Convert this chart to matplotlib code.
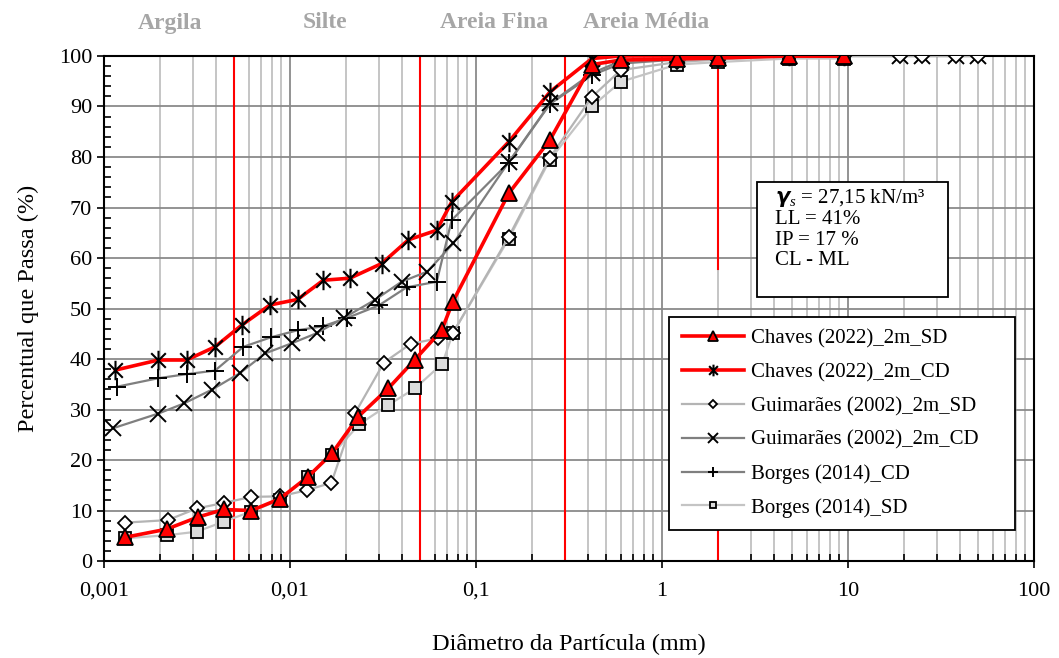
import numpy as np
import matplotlib
matplotlib.use("Agg")
import matplotlib.pyplot as plt
from matplotlib.path import Path
from matplotlib.patches import Rectangle
from matplotlib.ticker import FixedLocator, LogLocator, NullFormatter

# ── Dados (diâmetro em mm, % que passa) ──────────────────────────────────────
chaves_sd_x = [0.0013, 0.00217, 0.0032, 0.0044, 0.0062, 0.0088, 0.0125, 0.0168, 0.0233,
               0.0338, 0.047, 0.0654, 0.075, 0.15, 0.25, 0.42, 0.6, 1.2, 2.0, 4.8, 9.5]
chaves_sd_y = [4.7, 6.3, 8.7, 10.2, 10.0, 12.3, 16.7, 21.3, 28.6,
               34.2, 39.9, 45.7, 51.3, 72.8, 83.4, 98.3, 99.2, 99.4, 99.6, 100, 100]

chaves_cd_x = [0.00115, 0.00196, 0.00278, 0.00395, 0.0055, 0.0078, 0.011, 0.0151, 0.021,
               0.0311, 0.0433, 0.0615, 0.074, 0.15, 0.25, 0.42, 0.6, 1.2, 2.0, 4.8, 9.5]
chaves_cd_y = [37.8, 39.8, 39.8, 42.4, 46.7, 50.7, 51.8, 55.6, 56.0,
               58.9, 63.6, 65.5, 71.1, 83.0, 92.9, 99.5, 100, 100, 100, 100, 100]

guim_sd_x = [0.0013, 0.0022, 0.00315, 0.0044, 0.0062, 0.0088, 0.0123, 0.0167, 0.0224,
             0.032, 0.0445, 0.0627, 0.075, 0.15, 0.25, 0.42, 0.6, 1.2, 2.0, 4.8, 9.5,
             19, 25, 38, 50]
guim_sd_y = [7.6, 8.1, 10.4, 11.5, 12.7, 12.8, 14.0, 15.5, 29.3,
             39.3, 43.0, 44.1, 45.1, 64.2, 79.9, 91.9, 97.2, 98.8, 99.3, 100, 100,
             100, 100, 100, 100]

guim_cd_x = [0.00112, 0.00196, 0.00269, 0.00379, 0.00538, 0.00734, 0.0102, 0.0139, 0.0194,
             0.0286, 0.0398, 0.0547, 0.0755, 0.15, 0.25, 0.42, 0.6, 1.2, 2.0, 4.8, 9.5,
             19, 25, 38, 50]
guim_cd_y = [26.3, 29.2, 31.2, 33.9, 37.2, 41.1, 43.1, 45.1, 48.1,
             51.7, 55.3, 57.3, 62.9, 79.0, 90.6, 96.6, 99.0, 99.5, 99.7, 100, 100,
             100, 100, 100, 100]

borges_cd_x = [0.00117, 0.00196, 0.00278, 0.00395, 0.0056, 0.0079, 0.011, 0.0151, 0.0202,
               0.030, 0.0424, 0.0615, 0.074, 0.15, 0.25, 0.42, 0.6, 1.2, 2.0, 4.8, 9.5]
borges_cd_y = [34.5, 36.2, 37.0, 37.7, 42.4, 44.3, 45.7, 46.5, 48.1,
               50.6, 54.2, 55.3, 67.5, 78.9, 90.5, 96.2, 98.5, 99.3, 99.5, 100, 100]

borges_sd_x = [0.0013, 0.00217, 0.00315, 0.0044, 0.0062, 0.0088, 0.0125, 0.0168, 0.0236,
               0.0338, 0.047, 0.066, 0.075, 0.15, 0.25, 0.42, 0.6, 1.2, 2.0, 4.8, 9.5]
borges_sd_y = [4.5, 5.1, 5.8, 7.8, 9.8, 12.1, 16.7, 21.0, 27.1,
               30.9, 34.2, 39.1, 45.1, 63.8, 79.5, 90.0, 94.9, 98.3, 98.8, 99.5, 99.5]

limites_mm   = [0.005, 0.05, 0.3, 2.0]          # limites das frações (linhas vermelhas)
fracoes      = ["Argila", "Silte", "Areia Fina", "Areia Média"]
x_ticks      = [0.001, 0.01, 0.1, 1, 10, 100]
x_ticklabels = ["0,001", "0,01", "0,1", "1", "10", "100"]
info_txt     = "$\\boldsymbol{\\gamma}_{\\mathit{s}}$ = 27,15 kN/m³\nLL = 41%\nIP = 17 %\nCL - ML"

# ── Estilo ────────────────────────────────────────────────────────────────────
plt.rcParams["font.family"] = ["Liberation Serif", "DejaVu Serif"]
plt.rcParams["mathtext.fontset"] = "custom"
plt.rcParams["mathtext.rm"] = "Liberation Serif"
plt.rcParams["mathtext.it"] = "Liberation Serif:italic"
plt.rcParams["mathtext.bf"] = "Liberation Serif:bold:italic"

# asterisco tipo Excel: X + barra vertical
AST = Path([(0, -1), (0, 1), (-0.75, -0.75), (0.75, 0.75), (-0.75, 0.75), (0.75, -0.75)],
           [Path.MOVETO, Path.LINETO] * 3)

fig = plt.figure(figsize=(10.59, 6.58), dpi=100)
ax = fig.add_axes([0.0982, 0.1474, 0.8782, 0.7675])

ax.set_xscale("log")
ax.set_xlim(0.001, 100)
ax.set_ylim(0, 100)

# grade
ax.xaxis.set_major_locator(FixedLocator(x_ticks))
ax.xaxis.set_minor_locator(LogLocator(base=10, subs=np.arange(2, 10)))
ax.xaxis.set_minor_formatter(NullFormatter())
ax.set_xticklabels(x_ticklabels)
ax.set_yticks(np.arange(0, 101, 10))
ax.set_yticks(np.arange(0, 101, 2), minor=True)
ax.grid(which="major", axis="both", color="#8a8a8a", lw=1.3, zorder=0)
ax.grid(which="minor", axis="x", color="#c0c0c0", lw=1.3, zorder=0)
ax.set_axisbelow(True)
ax.tick_params(which="major", direction="out", length=5, width=1.2, labelsize=16)
ax.tick_params(axis="x", which="major", pad=10)
ax.tick_params(which="minor", direction="in", length=5, width=1.2)
for s in ax.spines.values():
    s.set_linewidth(1.5)

# limites das frações
for lim in limites_mm[:3]:
    ax.axvline(lim, color="red", lw=1.5, zorder=1)
ax.axvline(2.0, ymin=0.0, ymax=0.1, color="red", lw=1.5, zorder=1)
ax.axvline(2.0, ymin=0.578, ymax=1.0, color="red", lw=1.5, zorder=1)

# séries
ax.plot(borges_sd_x, borges_sd_y, color="#c4c4c4", lw=1.6, marker="s", ms=8,
        mfc="#dcdcdc", mec="black", mew=1.3, label="Borges (2014)_SD", zorder=3)
ax.plot(borges_cd_x, borges_cd_y, color="#7f7f7f", lw=1.6, marker="+", ms=13,
        mec="black", mew=1.4, label="Borges (2014)_CD", zorder=3)
ax.plot(guim_cd_x, guim_cd_y, color="#7f7f7f", lw=1.6, marker="x", ms=11,
        mec="black", mew=1.4, label="Guimarães (2002)_2m_CD", zorder=3)
ax.plot(guim_sd_x, guim_sd_y, color="#b4b4b4", lw=1.6, marker="D", ms=7,
        mfc="white", mec="black", mew=1.3, label="Guimarães (2002)_2m_SD", zorder=3)
ax.plot(chaves_cd_x, chaves_cd_y, color="red", lw=2.6, marker=AST, ms=14,
        mec="black", mew=1.5, label="Chaves (2022)_2m_CD", zorder=4)
ax.plot(chaves_sd_x, chaves_sd_y, color="red", lw=2.6, marker="^", ms=11,
        mfc="red", mec="black", mew=1.3, label="Chaves (2022)_2m_SD", zorder=5)

ax.set_xlabel("Diâmetro da Partícula (mm)", fontsize=17.5, labelpad=24)
ax.set_ylabel("Percentual que Passa (%)", fontsize=17.5, labelpad=14)

# nomes das frações no topo
for nome, xc in zip(fracoes, [170, 325, 494, 646]):
    fig.text(xc / 1059, 1 - 23 / 658, nome, ha="center", va="center",
             fontsize=17, fontweight="bold", color="#a6a6a6")

# caixa de propriedades
ax.add_patch(Rectangle((0.702, 0.523), 0.206, 0.228, transform=ax.transAxes,
                       fc="white", ec="black", lw=1.3, zorder=6))
ax.text(0.722, 0.74, info_txt, transform=ax.transAxes, ha="left", va="top",
        fontsize=15, linespacing=1.08, zorder=7)

# legenda na ordem original
h, l = ax.get_legend_handles_labels()
order = [5, 4, 3, 2, 1, 0]
leg = ax.legend([h[i] for i in order], [l[i] for i in order], loc="lower left",
                bbox_to_anchor=(0.608, 0.061, 0.372, 0.42), mode="expand", fontsize=15,
                frameon=True, fancybox=False, edgecolor="black", framealpha=1,
                markerscale=0.6, handlelength=3.0, handletextpad=0.3,
                labelspacing=0.68, borderpad=0.6, borderaxespad=0)
leg.get_frame().set_linewidth(1.3)
leg.set_zorder(8)

fig.savefig("out.png", dpi=100)
